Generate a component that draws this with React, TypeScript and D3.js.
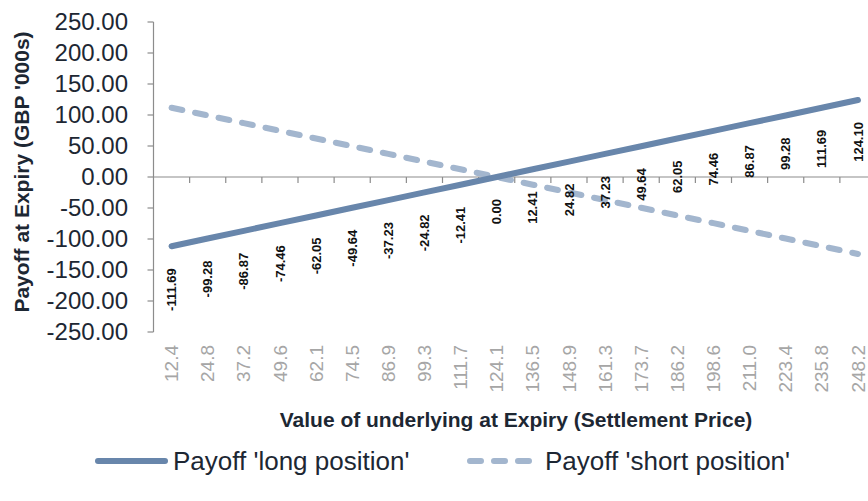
import React from 'react';
import * as d3 from 'd3';

// settlement prices (category axis)
const categories = ['12.4', '24.8', '37.2', '49.6', '62.1', '74.5', '86.9', '99.3', '111.7', '124.1',
  '136.5', '148.9', '161.3', '173.7', '186.2', '198.6', '211.0', '223.4', '235.8', '248.2'];

const longPayoff = [-111.69, -99.28, -86.87, -74.46, -62.05, -49.64, -37.23, -24.82, -12.41, 0.0,
  12.41, 24.82, 37.23, 49.64, 62.05, 74.46, 86.87, 99.28, 111.69, 124.1];

const shortPayoff = [111.69, 99.28, 86.87, 74.46, 62.05, 49.64, 37.23, 24.82, 12.41, 0.0,
  -12.41, -24.82, -37.23, -49.64, -62.05, -74.46, -86.87, -99.28, -111.69, -124.1];

const yTicks = [250, 200, 150, 100, 50, 0, -50, -100, -150, -200, -250];

const W = 868;
const H = 501;
const LONG_COL = '#6886ab';
const SHORT_COL = '#a3b6ce';
const TEXT_COL = '#1d2733';
const AXIS_COL = '#8c8c8c';
const FONT = 'Liberation Sans, Arial, sans-serif';

const App: React.FC = () => {
  const x = d3.scaleBand<string>().domain(categories).range([153.5, 876]).padding(0);
  const y = d3.scaleLinear().domain([-250, 250]).range([332, 22]);
  const cx = (i: number) => (x(categories[i]) || 0) + x.bandwidth() / 2;

  const line = d3.line<number>()
    .x((d, i) => cx(i))
    .y(d => y(d));

  const x0 = 153.5;
  const yZero = y(0);

  return (
    <svg width={W} height={H} style={{ position: 'absolute', left: 0, top: 0, background: '#fff' }}
      fontFamily={FONT}>
      {/* y axis */}
      <line x1={x0} x2={x0} y1={y(250)} y2={y(-250)} stroke={AXIS_COL} strokeWidth={1.2} />
      {yTicks.map(t => (
        <g key={t}>
          <line x1={x0 - 6} x2={x0} y1={y(t)} y2={y(t)} stroke={AXIS_COL} strokeWidth={1.2} />
          <text x={128} y={y(t)} dy="0.35em" textAnchor="end" fontSize={24} fill={TEXT_COL}>
            {t.toFixed(2)}
          </text>
        </g>
      ))}

      {/* x axis at zero */}
      <line x1={x0} x2={W} y1={yZero} y2={yZero} stroke={AXIS_COL} strokeWidth={1.2} />
      {categories.map(c => (
        <line key={'t' + c} x1={(x(c) || 0) + x.bandwidth()} x2={(x(c) || 0) + x.bandwidth()}
          y1={yZero} y2={yZero + 6} stroke={AXIS_COL} strokeWidth={1.2} />
      ))}
      {categories.map((c, i) => (
        <text key={'l' + c} transform={`translate(${cx(i)},345) rotate(-90)`} textAnchor="end"
          dy="0.35em" fontSize={19} fill="#a6a6a6">{c}</text>
      ))}

      {/* series */}
      <path d={line(shortPayoff) || ''} fill="none" stroke={SHORT_COL} strokeWidth={6}
        strokeLinecap="round" strokeDasharray="11,13" />
      <path d={line(longPayoff) || ''} fill="none" stroke={LONG_COL} strokeWidth={6}
        strokeLinecap="round" />

      {/* data labels for long position */}
      {longPayoff.map((v, i) => (
        <text key={'d' + i} transform={`translate(${cx(i)},${y(v) + 22}) rotate(-90)`}
          textAnchor="end" dy="0.35em" fontSize={13} fontWeight="bold" fill="#111">
          {v.toFixed(2)}
        </text>
      ))}

      {/* axis titles */}
      <text transform="translate(22,172) rotate(-90)" textAnchor="middle" dy="0.35em"
        fontSize={21} fontWeight="bold" fill={TEXT_COL}>Payoff at Expiry (GBP '000s)</text>
      <text x={516} y={420} textAnchor="middle" dy="0.35em" fontSize={21} fontWeight="bold"
        fill={TEXT_COL}>Value of underlying at Expiry (Settlement Price)</text>

      {/* legend */}
      <g transform="translate(0,461)">
        <line x1={98} x2={165} y1={0} y2={0} stroke={LONG_COL} strokeWidth={6} strokeLinecap="round" />
        <text x={173} y={0} dy="0.35em" fontSize={26} fill={TEXT_COL}>Payoff 'long position'</text>
        <line x1={470} x2={531} y1={0} y2={0} stroke={SHORT_COL} strokeWidth={6} strokeLinecap="round"
          strokeDasharray="11,13" />
        <text x={545} y={0} dy="0.35em" fontSize={26} fill={TEXT_COL}>Payoff 'short position'</text>
      </g>
    </svg>
  );
};

export default App;
